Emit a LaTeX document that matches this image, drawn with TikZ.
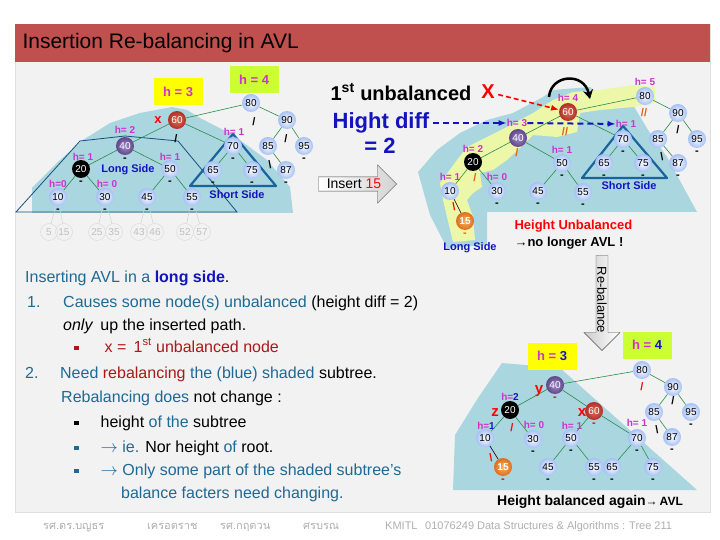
\documentclass[tikz,border=0pt]{standalone}
\usepackage{fontspec}
\setmainfont{Liberation Sans}
\newfontfamily\thaifont[Script=Thai]{Loma}
\usepackage{tikz}
\usetikzlibrary{shapes.arrows,arrows.meta}

\definecolor{hdred}{RGB}{192,80,77}
\definecolor{slidebg}{RGB}{242,242,242}
\definecolor{shadeblue}{RGB}{170,214,224}
\definecolor{pathyellow}{RGB}{236,248,168}
\definecolor{nodeblue}{RGB}{165,192,245}
\definecolor{nodered}{RGB}{170,50,38}
\definecolor{noderedin}{RGB}{225,110,90}
\definecolor{nodepurple}{RGB}{95,70,135}
\definecolor{nodepurplein}{RGB}{160,140,200}
\definecolor{nodeorange}{RGB}{220,110,30}
\definecolor{nodeorangein}{RGB}{250,180,90}
\definecolor{hmag}{RGB}{204,51,204}
\definecolor{linkgreen}{RGB}{40,140,70}
\definecolor{txtteal}{RGB}{30,105,150}
\definecolor{txtred}{RGB}{170,25,25}
\definecolor{boldblue}{RGB}{20,20,190}
\definecolor{sideblue}{RGB}{25,100,155}
\definecolor{slashorange}{RGB}{225,95,20}
\definecolor{footgrey}{RGB}{175,175,175}
\definecolor{hyellow}{RGB}{255,255,0}
\definecolor{hgreen}{RGB}{204,255,51}

\begin{document}
\begin{tikzpicture}[x=1pt, y=-1pt,
    ndbase/.style={circle, inner sep=0pt, minimum size=18pt, font=\fontsize{10}{12}\selectfont},
    nd/.style={ndbase, inner color=white, outer color=nodeblue},
    ndred/.style={ndbase, inner color=noderedin, outer color=nodered, text=white},
    ndpurple/.style={ndbase, inner color=nodepurplein, outer color=nodepurple, text=white},
    ndblack/.style={ndbase, fill=black, text=white},
    ndorange/.style={ndbase, inner color=nodeorangein, outer color=nodeorange, text=white, font=\fontsize{10}{12}\selectfont\bfseries},
    leaf/.style={circle, draw=gray!30, inner sep=0pt, minimum size=17pt, text=gray!50, font=\fontsize{10}{12}\selectfont},
    bfmark/.style={font=\fontsize{11}{12}\selectfont\bfseries, inner sep=2.5pt},
    bal/.style={label={[bfmark]below:-}},
    balr/.style={label={[bfmark, text=txtred]below:-}},
    balo/.style={label={[bfmark, text=slashorange]below:-}},
    hl/.style={text=hmag, font=\fontsize{10}{12}\selectfont\bfseries, inner sep=0pt},
    sl/.style={font=\fontsize{11}{12}\selectfont\bfseries, inner sep=0pt},
    link/.style={linkgreen, line width=0.6pt},
    leaflink/.style={gray!35, line width=0.5pt},
    sidelbl/.style={text=boldblue, font=\fontsize{11}{13}\selectfont\bfseries},
    hbox/.style={minimum width=49pt, minimum height=27pt, text=hmag, font=\fontsize{13}{15}\selectfont\bfseries},
    body/.style={anchor=base west, inner sep=0pt, text=txtteal, font=\fontsize{16}{18}\selectfont},
    foot/.style={anchor=base west, inner sep=0pt, text=footgrey, font=\fontsize{11}{13}\selectfont}]

% Slide
\useasboundingbox (0,0) rectangle (720,540);
\fill[white] (0,0) rectangle (720,540);
\fill[slidebg] (15,62) rectangle (710,512);
\draw[gray!25] (15,24) rectangle (710,512);
\fill[hdred] (15,24) rectangle (710,62);
\node[anchor=west, font=\fontsize{21}{24}\selectfont] (title) at (19,43) {Insertion Re-balancing in AVL};

% Shaded regions
\fill[shadeblue] (32,188) -- (60,160) -- (83,140) -- (110,123) -- (140,113) -- (172,107) -- (187,110)
    -- (200,118) -- (233,135) -- (267,160) -- (290,187) -- (293,213) -- (32,213) -- cycle;
\fill[shadeblue] (418,172) -- (437,150) -- (460,133) -- (487,120) -- (513,113) -- (543,97) -- (553,90)
    -- (590,87) -- (600,95) -- (633,105) -- (648,130) -- (667,157) -- (697,212) -- (487,212)
    -- (487,245) -- (447,248) -- (430,215) -- cycle;
\fill[pathyellow] (443,200) -- (440,183) -- (457,160) -- (467,147) -- (487,137) -- (507,127) -- (533,113)
    -- (553,100) -- (573,92) -- (600,90) -- (633,85) -- (655,87) -- (655,103) -- (633,107) -- (600,110)
    -- (580,113) -- (577,132) -- (557,137) -- (533,135) -- (520,148) -- (507,160) -- (493,170)
    -- (480,173) -- (482,187) -- (473,193) -- (467,200) -- (473,217) -- (475,240) -- (453,242)
    -- (447,217) -- cycle;
\fill[shadeblue] (453,490) -- (455,435) -- (478,398) -- (502,363) -- (560,368) -- (697,490) -- cycle;

% Sides
\draw[sideblue!80!black, line width=0.8pt] (16,212) -- (80,141) -- (125,136) -- (178,141) -- (237,212) -- cycle;
\draw[sideblue, line width=2.2pt, line join=round] (233,134) -- (190,186) -- (276,186) -- cycle;
\draw[sideblue, line width=2.2pt, line join=round] (623,126) -- (582,178) -- (667,178) -- cycle;

% Tree before insert
\node[hbox, fill=hyellow] (ah3) at (178,92) {h = 3};
\node[hbox, fill=hgreen] (ah4) at (254,80) {h = 4};
\node[nd] (a80) at (251,103) {80};
\node[ndred] (a60) at (177,120) {60};
\node[nd] (a90) at (287,120) {90};
\node[nd] (a85) at (268,146) {85};
\node[nd, bal] (a95) at (304,146) {95};
\node[nd, bal] (a87) at (286,170) {87};
\node[nd, bal] (a70) at (233,146) {70};
\node[nd, bal] (a65) at (213,170) {65};
\node[nd, bal] (a75) at (252,170) {75};
\node[ndpurple, bal] (a40) at (125,146) {40};
\node[ndblack, bal] (a20) at (81,169) {20};
\node[nd, bal] (a50) at (170,169) {50};
\node[nd, bal] (a10) at (58,197) {10};
\node[nd, bal] (a30) at (105,197) {30};
\node[nd, bal] (a45) at (147,197) {45};
\node[nd, bal] (a55) at (192,197) {55};
\node[leaf] (a5) at (49,232) {5};
\node[leaf] (a15) at (64,232) {15};
\node[leaf] (a25) at (97,232) {25};
\node[leaf] (a35) at (114,232) {35};
\node[leaf] (a43) at (139,232) {43};
\node[leaf] (a46) at (155,232) {46};
\node[leaf] (a52) at (185,232) {52};
\node[leaf] (a57) at (202,232) {57};
\node[hl] (ah40) at (125,130) {h= 2};
\node[hl] (ah20) at (83,157) {h= 1};
\node[hl] (ah50) at (170,157) {h= 1};
\node[hl] (ah10) at (58,184) {h=0};
\node[hl] (ah30) at (107,184) {h= 0};
\node[hl] (ah70) at (234,132) {h= 1};
\node[text=red, font=\fontsize{13}{15}\selectfont\bfseries] (ax) at (158,120) {x};
\node[sl] (as80) at (254,122) {/};
\node[sl] (as60) at (176,139) {/};
\node[sl] (as90) at (286,139) {/};
\node[sl] (as85) at (270,165) {\textbackslash};
\node[sidelbl] (along) at (128,170) {Long Side};
\node[sidelbl] (ashort) at (237,195) {Short Side};
\draw[link] (a80) -- (a60);
\draw[link] (a80) -- (a90);
\draw[link] (a90) -- (a85);
\draw[link] (a90) -- (a95);
\draw[link] (a85) -- (a87);
\draw[link] (a60) -- (a40);
\draw[link] (a60) -- (a70);
\draw[link] (a70) -- (a65);
\draw[link] (a70) -- (a75);
\draw[link] (a40) -- (a20);
\draw[link] (a40) -- (a50);
\draw[link] (a20) -- (a10);
\draw[link] (a20) -- (a30);
\draw[link] (a50) -- (a45);
\draw[link] (a50) -- (a55);
\draw[leaflink] (a10) -- (a5);
\draw[leaflink] (a10) -- (a15);
\draw[leaflink] (a30) -- (a25);
\draw[leaflink] (a30) -- (a35);
\draw[leaflink] (a45) -- (a43);
\draw[leaflink] (a45) -- (a46);
\draw[leaflink] (a55) -- (a52);
\draw[leaflink] (a55) -- (a57);

% Insert arrow
\node[single arrow, draw=gray!60!black, left color=white, right color=gray!35, minimum height=78pt,
    minimum width=21pt, single arrow head extend=12pt, inner sep=2pt, font=\fontsize{14}{16}\selectfont]
    (ins) at (354,184) {Insert \textcolor{red}{15}};

% Tree after insert
\node[font=\fontsize{20}{24}\selectfont\bfseries] (unbal) at (401,92) {1\textsuperscript{st} unbalanced};
\node[text=red, font=\fontsize{20}{24}\selectfont\bfseries] (xmark) at (488,92) {X};
\node[text=boldblue, font=\fontsize{22}{26}\selectfont\bfseries] (hd) at (381,123) {Hight diff};
\node[text=boldblue, font=\fontsize{22}{26}\selectfont\bfseries] (hd2) at (380,146) {= 2};
\node[nd] (b80) at (645,96) {80};
\node[ndred] (b60) at (568,112) {60};
\node[nd] (b90) at (678,113) {90};
\node[nd] (b85) at (658,139) {85};
\node[nd, bal] (b95) at (697,139) {95};
\node[nd, bal] (b87) at (678,163) {87};
\node[nd, bal] (b70) at (623,139) {70};
\node[nd, bal] (b65) at (604,163) {65};
\node[nd, bal] (b75) at (643,163) {75};
\node[ndpurple] (b40) at (518,138) {40};
\node[ndblack] (b20) at (473,162) {20};
\node[nd, bal] (b50) at (562,163) {50};
\node[nd] (b10) at (450,191) {10};
\node[nd, bal] (b30) at (497,191) {30};
\node[nd, bal] (b45) at (538,191) {45};
\node[nd, bal] (b55) at (583,192) {55};
\node[ndorange, balo] (b15) at (465,221) {15};
\node[hl] (bh80) at (645,82) {h= 5};
\node[hl] (bh60) at (568,98) {h= 4};
\node[hl] (bh70) at (626,124) {h= 1};
\node[hl] (bh40) at (517,123) {h= 3};
\node[hl] (bh20) at (473,149) {h= 2};
\node[hl] (bh50) at (562,150) {h= 1};
\node[hl] (bh10) at (450,177) {h= 1};
\node[hl] (bh30) at (497,177) {h= 0};
\node[sl, text=slashorange] (bs80) at (644,113) {//};
\node[sl, text=slashorange] (bs60) at (565,132) {//};
\node[sl] (bs90) at (678,130) {/};
\node[sl] (bs85) at (662,157) {\textbackslash};
\node[sl, text=slashorange] (bs40) at (517,153) {/};
\node[sl, text=slashorange] (bs20) at (475,178) {/};
\node[sl, text=red] (bs10) at (454,207) {\textbackslash};
\node[sidelbl] (bshort) at (629,186) {Short Side};
\node[sidelbl] (blong) at (470,248) {Long Side};
\node[anchor=west, text=red, font=\fontsize{13}{15}\selectfont\bfseries] (hu) at (511,226) {Height Unbalanced};
\node[anchor=west, font=\fontsize{13}{15}\selectfont\bfseries] (nolonger) at (511,243) {→no longer AVL !};
\draw[link] (b80) -- (b60);
\draw[link] (b80) -- (b90);
\draw[link] (b90) -- (b85);
\draw[link] (b90) -- (b95);
\draw[link] (b85) -- (b87);
\draw[link] (b60) -- (b40);
\draw[link] (b60) -- (b70);
\draw[link] (b70) -- (b65);
\draw[link] (b70) -- (b75);
\draw[link] (b40) -- (b20);
\draw[link] (b40) -- (b50);
\draw[link] (b20) -- (b10);
\draw[link] (b20) -- (b30);
\draw[link] (b50) -- (b45);
\draw[link] (b50) -- (b55);
\draw[black, line width=0.6pt] (b10) -- (b15);
\draw[red, line width=1.6pt, dash pattern=on 5pt off 3pt, -{Latex[length=8pt]}] (xmark) -- (b60);
\draw[boldblue, line width=2pt, dash pattern=on 6pt off 4pt, -{Latex[length=8pt]}] (hd) -- (bh40);
\draw[boldblue, line width=2pt, dash pattern=on 6pt off 4pt, -{Latex[length=8pt]}] (bh40) -- (bh70);
\coordinate (rotA) at (549,97);
\coordinate (rotB) at (590,99);
\draw[line width=2.5pt, -{Stealth[length=9pt, width=10pt]}] (rotA) .. controls (551,74) and (584,72) .. (rotB);

% Re-balance arrow
\node[single arrow, draw=gray!60!black, left color=gray!40, right color=white, minimum height=95pt,
    minimum width=22pt, single arrow head extend=12pt, inner sep=1pt, rotate=-90,
    font=\fontsize{13}{15}\selectfont] (rebal) at (602,300) {Re-balance};

% Tree after re-balance
\node[hbox, fill=hyellow] (ch3) at (552,356) {h = \textcolor{boldblue}{3}};
\node[hbox, fill=hgreen] (ch4) at (647,345) {h = \textcolor{boldblue}{4}};
\node[nd] (c80) at (642,370) {80};
\node[nd] (c90) at (673,387) {90};
\node[nd] (c85) at (654,412) {85};
\node[nd, bal] (c95) at (691,412) {95};
\node[nd, bal] (c87) at (672,437) {87};
\node[ndpurple, balr] (c40) at (555,385) {40};
\node[ndblack] (c20) at (510,410) {20};
\node[nd] (c10) at (485,438) {10};
\node[ndorange, balr] (c15) at (503,467) {15};
\node[nd, bal] (c30) at (533,439) {30};
\node[ndred, balr] (c60) at (594,411) {60};
\node[nd, bal] (c50) at (571,438) {50};
\node[nd, bal] (c70) at (637,438) {70};
\node[nd, bal] (c45) at (548,467) {45};
\node[nd, bal] (c55) at (594,467) {55};
\node[nd, bal] (c65) at (612,467) {65};
\node[nd, bal] (c75) at (653,467) {75};
\node[hl] (ch20) at (510,397) {h=\textcolor{boldblue}{2}};
\node[hl] (ch10) at (486,426) {h=\textcolor{boldblue}{1}};
\node[hl] (ch30) at (534,425) {h= 0};
\node[hl] (ch50) at (572,426) {h= 1};
\node[hl] (ch70) at (637,423) {h= 1};
\node[text=red, font=\fontsize{15}{17}\selectfont\bfseries] (cy) at (539,391) {y};
\node[text=red, font=\fontsize{15}{17}\selectfont\bfseries] (cz) at (495,413) {z};
\node[text=red, font=\fontsize{15}{17}\selectfont\bfseries] (cx) at (582,413) {x};
\node[sl, text=red] (cs80) at (642,387) {/};
\node[sl] (cs90) at (673,401) {/};
\node[sl] (cs85) at (657,430) {\textbackslash};
\node[sl, text=red] (cs20) at (512,428) {/};
\node[sl, text=red] (cs10) at (491,458) {\textbackslash};
\node[font=\fontsize{14}{16}\selectfont\bfseries] (again) at (590,502) {Height balanced again{\fontsize{12}{14}\selectfont →\,AVL}};
\draw[link] (c80) -- (c40);
\draw[link] (c80) -- (c90);
\draw[link] (c90) -- (c85);
\draw[link] (c90) -- (c95);
\draw[link] (c85) -- (c87);
\draw[link] (c40) -- (c20);
\draw[link] (c40) -- (c60);
\draw[link] (c20) -- (c10);
\draw[link] (c20) -- (c30);
\draw[black, line width=0.6pt] (c10) -- (c15);
\draw[link] (c60) -- (c50);
\draw[link] (c60) -- (c70);
\draw[link] (c50) -- (c45);
\draw[link] (c50) -- (c55);
\draw[link] (c70) -- (c65);
\draw[link] (c70) -- (c75);

% Text
\node[body] (t1) at (25,282) {Inserting AVL in a \textcolor{boldblue}{\bfseries long side}\textcolor{black}{.}};
\node[body] (t2) at (27,307) {\makebox[36pt][l]{1.}Causes some node(s) unbalanced \textcolor{black}{(height diff = 2)}};
\node[body, text=black] (t3) at (63,330) {\textit{only}\, up the inserted path.};
\node[body, text=txtred] (t4) at (74,352) {\rule[2pt]{4.5pt}{4.5pt}\hspace{26pt}x =\, 1\textsuperscript{st} unbalanced node};
\node[body] (t5) at (25,378) {\makebox[35pt][l]{2.}Need \textcolor{txtred}{rebalancing} the (blue) shaded \textcolor{black}{subtree.}};
\node[body] (t6) at (61,402) {Rebalancing does \textcolor{black}{not change :}};
\node[body, text=black] (t7) at (74,427) {\rule[2pt]{4.5pt}{4.5pt}\hspace{22pt}height \textcolor{txtteal}{of the} subtree};
\node[body] (t8) at (74,452) {\rule[2pt]{4.5pt}{4.5pt}\hspace{22pt}$\rightarrow$ ie. \textcolor{black}{Nor height} of \textcolor{black}{root.}};
\node[body] (t9) at (74,475) {\rule[2pt]{4.5pt}{4.5pt}\hspace{22pt}$\rightarrow$ Only some part of the shaded subtree’s};
\node[body] (t10) at (121,498) {balance facters need changing.};

% Footer
\node[foot] (f1) at (43,529) {\thaifont รศ.ดร.บญธร};
\node[foot] (f2) at (147,529) {\thaifont เครอตราช};
\node[foot] (f3) at (220,529) {\thaifont รศ.กฤตวน};
\node[foot] (f4) at (303,529) {\thaifont ศรบรณ};
\node[foot] (f5) at (385,529) {KMITL};
\node[foot] (f6) at (425,529) {01076249 Data Structures \& Algorithms : Tree 211};
\end{tikzpicture}
\end{document}
